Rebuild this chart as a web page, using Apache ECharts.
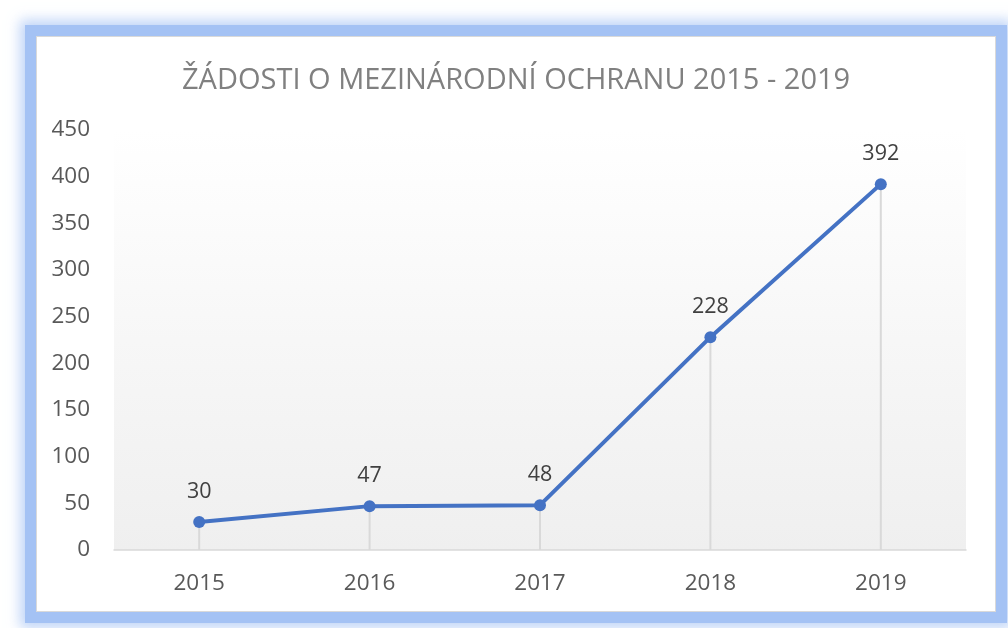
<!DOCTYPE html>
<html>
<head>
<meta charset="utf-8">
<script src="https://cdn.jsdelivr.net/npm/echarts@6/dist/echarts.min.js"></script>
<style>
  html, body { margin: 0; padding: 0; background: #fff; }
  #frame {
    position: absolute; left: 36px; top: 36px; width: 958px; height: 574px;
    border: 1px solid #d9d9d9; background: #fff;
    box-shadow: 0 0 0 11px #a4c2f4, 0 0 12px 16px rgba(164, 194, 244, 0.7);
  }
  #main { position: absolute; left: 0; top: 0; width: 1008px; height: 628px; }
</style>
</head>
<body>
<div id="frame"></div>
<div id="main"></div>
<script>
const years = ['2015', '2016', '2017', '2018', '2019'];
const requests = [30, 47, 48, 228, 392];

const chart = echarts.init(document.getElementById('main'));

const option = {
  backgroundColor: 'transparent',
  textStyle: { fontFamily: 'Open Sans' },
  title: {
    text: 'ŽÁDOSTI O MEZINÁRODNÍ OCHRANU 2015 - 2019',
    left: 177,
    top: 61,
    textStyle: { fontSize: 29, fontWeight: 'normal', color: '#808080', fontFamily: 'Open Sans' }
  },
  grid: {
    left: 114, right: 42, top: 130, bottom: 78,
    show: true, borderWidth: 0,
    backgroundColor: new echarts.graphic.LinearGradient(0, 0, 0, 1, [
      { offset: 0, color: '#ffffff' },
      { offset: 1, color: '#efefef' }
    ])
  },
  xAxis: {
    type: 'category',
    data: years,
    axisLine: { lineStyle: { color: '#d9d9d9', width: 1.5 } },
    axisTick: { show: false },
    axisLabel: { fontSize: 22.5, color: '#595959', margin: 22 }
  },
  yAxis: {
    type: 'value',
    min: 0, max: 450, interval: 50,
    splitLine: { show: false },
    axisLine: { show: false },
    axisLabel: { fontSize: 22.5, color: '#595959', margin: 24 }
  },
  series: [
    {
      // svislé spojnice od bodu k ose
      type: 'bar',
      data: requests,
      barWidth: 2,
      itemStyle: { color: '#d9d9d9' },
      silent: true,
      z: 1
    },
    {
      type: 'line',
      data: requests,
      symbol: 'circle',
      symbolSize: 12,
      lineStyle: { color: '#4472c4', width: 4 },
      itemStyle: { color: '#4472c4' },
      label: { show: true, position: 'top', distance: 13, fontSize: 21.5, color: '#404040' },
      z: 3
    }
  ]
};

chart.setOption(option);
</script>
</body>
</html>
